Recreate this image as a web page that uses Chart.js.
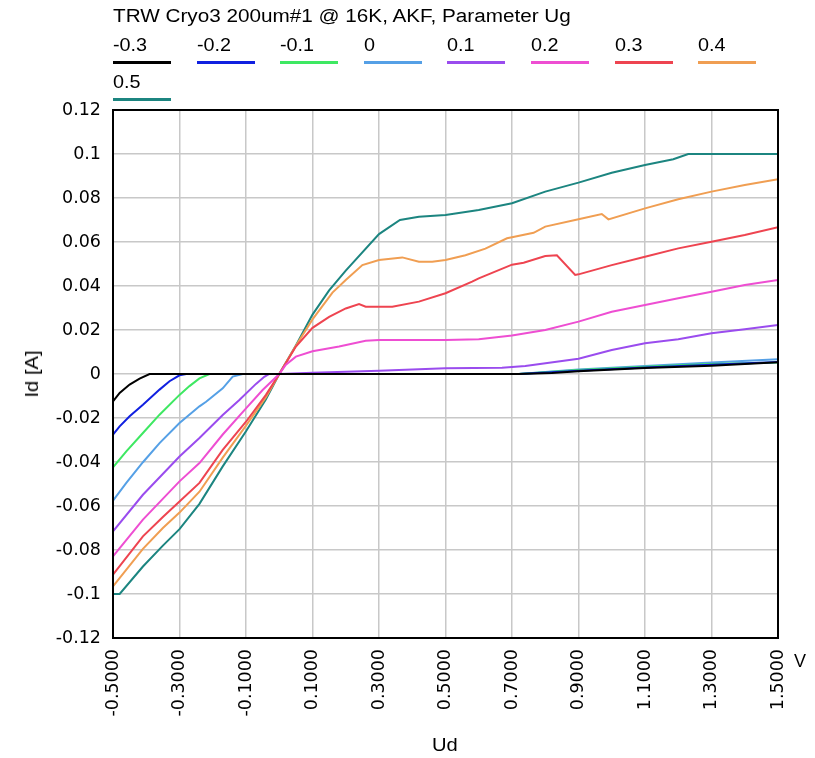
<!DOCTYPE html>
<html>
<head>
<meta charset="utf-8">
<title>TRW Cryo3 200um#1 @ 16K</title>
<script src="https://cdn.jsdelivr.net/npm/chart.js@4.4.1/dist/chart.umd.min.js"></script>
<style>
  html, body { margin: 0; padding: 0; background: #fff; }
  #wrap { position: relative; width: 815px; height: 758px; font-family: "Liberation Sans", Arial, sans-serif; color: #000; overflow: hidden; }
  #plot { position: absolute; left: 0; top: 0; }
  #title { position: absolute; left: 113px; top: 5px; font-size: 18px; line-height: 22px; white-space: nowrap; transform: scaleX(1.15); transform-origin: left center; }
  .item { position: absolute; width: 58px; }
  .item span { display: block; font-size: 18px; line-height: 20px; white-space: nowrap; transform: scaleX(1.1); transform-origin: left center; }
  .item i { display: block; height: 3px; margin-top: 6px; }
  .axt { position: absolute; font-size: 18px; line-height: 20px; white-space: nowrap; }
</style>
</head>
<body>
<div id="wrap">
  <canvas id="plot" width="815" height="758"></canvas>
  <div id="title">TRW Cryo3 200um#1 @ 16K, AKF, Parameter Ug</div>
  <div id="legend"></div>
  <div class="axt" id="xt" style="left:432px; top:735px; transform: scaleX(1.12); transform-origin: left center;">Ud</div>
  <div class="axt" id="yt" style="left:32px; top:374px; transform: translate(-50%,-50%) rotate(-90deg) scaleX(1.12);">Id [A]</div>
  <div class="axt" id="unit" style="left:794px; top:651px;">V</div>
</div>
<script>
// Gate voltage parameter of each curve and its colour
const ugLabels = ['-0.3', '-0.2', '-0.1', '0', '0.1', '0.2', '0.3', '0.4', '0.5'];
const ugColors = ['#000000', '#1020e0', '#3ee862', '#55a0e6', '#9a4cee', '#ee4ed2', '#ee4450', '#f09e52', '#1c8580'];

// Drain voltage Ud [V] / drain current Id [A] per gate voltage
const ud_n03 = [-0.5, -0.48, -0.45, -0.42, -0.39, 0, 0.5, 0.72, 0.82, 0.9, 1.1, 1.3, 1.5];
const id_n03 = [-0.0124, -0.0086, -0.0048, -0.0021, 0, 0, 0, 0, 0.0005, 0.0012, 0.0027, 0.0038, 0.0053];

const ud_n02 = [-0.5, -0.48, -0.45, -0.41, -0.36, -0.33, -0.30, -0.28, 0, 0.72, 0.9, 1.1, 1.3, 1.5];
const id_n02 = [-0.0276, -0.0238, -0.0192, -0.014, -0.0071, -0.0033, -0.0006, 0, 0, 0, 0.0015, 0.003, 0.0042, 0.0055];

const ud_n01 = [-0.5, -0.46, -0.41, -0.36, -0.30, -0.27, -0.24, -0.21, 0, 0.72, 0.9, 1.1, 1.3, 1.5];
const id_n01 = [-0.0424, -0.0352, -0.0268, -0.0185, -0.0095, -0.0055, -0.002, 0, 0, 0, 0.0018, 0.0033, 0.0045, 0.0052];

const ud_0 = [-0.5, -0.46, -0.41, -0.36, -0.30, -0.24, -0.22, -0.17, -0.14, -0.11, 0, 0.72, 0.9, 1.1, 1.3, 1.5];
const id_0 = [-0.0576, -0.0495, -0.0401, -0.0314, -0.0223, -0.0147, -0.0126, -0.0065, -0.0012, 0, 0, 0, 0.0021, 0.0036, 0.0052, 0.0067];

const ud_p01 = [-0.5, -0.41, -0.30, -0.24, -0.17, -0.12, -0.07, -0.045, -0.03, 0, 0.1, 0.3, 0.5, 0.67, 0.74, 0.9, 1.0, 1.1, 1.2, 1.3, 1.4, 1.5];
const id_p01 = [-0.0715, -0.0549, -0.0375, -0.0291, -0.0186, -0.0118, -0.0045, -0.0013, 0, 0, 0.0006, 0.0015, 0.0026, 0.0028, 0.0036, 0.0069, 0.0109, 0.014, 0.0158, 0.0185, 0.0203, 0.0223];

const ud_p02 = [-0.5, -0.41, -0.30, -0.24, -0.17, -0.10, -0.05, 0, 0.02, 0.05, 0.1, 0.18, 0.26, 0.3, 0.5, 0.6, 0.7, 0.8, 0.9, 1.0, 1.1, 1.2, 1.3, 1.4, 1.5];
const id_p02 = [-0.0829, -0.0662, -0.0488, -0.0405, -0.0275, -0.0156, -0.0073, 0, 0.0042, 0.0079, 0.0103, 0.0125, 0.0151, 0.0155, 0.0155, 0.0158, 0.0175, 0.02, 0.0238, 0.0283, 0.0314, 0.0344, 0.0374, 0.0405, 0.0427];

const ud_p03 = [-0.5, -0.41, -0.35, -0.30, -0.24, -0.17, -0.10, -0.04, 0, 0.05, 0.1, 0.15, 0.2, 0.24, 0.26, 0.34, 0.42, 0.5, 0.58, 0.6, 0.7, 0.735, 0.8, 0.835, 0.89, 0.9, 1.0, 1.1, 1.2, 1.3, 1.4, 1.5];
const id_p03 = [-0.0912, -0.0738, -0.065, -0.058, -0.0495, -0.0345, -0.0217, -0.0095, 0, 0.0125, 0.021, 0.026, 0.0298, 0.0318, 0.0306, 0.0306, 0.0329, 0.0367, 0.042, 0.0435, 0.0497, 0.0506, 0.0536, 0.054, 0.045, 0.0453, 0.0495, 0.0533, 0.0571, 0.0601, 0.0632, 0.0667];

const ud_p04 = [-0.5, -0.41, -0.35, -0.30, -0.24, -0.17, -0.10, -0.04, 0, 0.05, 0.1, 0.16, 0.2, 0.25, 0.3, 0.37, 0.42, 0.46, 0.5, 0.56, 0.62, 0.685, 0.7, 0.765, 0.8, 0.9, 0.97, 0.99, 1.1, 1.2, 1.3, 1.4, 1.5];
const id_p04 = [-0.0965, -0.0795, -0.07, -0.063, -0.0535, -0.038, -0.0235, -0.0105, 0, 0.0128, 0.0248, 0.037, 0.0427, 0.0495, 0.0518, 0.053, 0.051, 0.051, 0.0518, 0.054, 0.057, 0.0617, 0.0622, 0.0642, 0.067, 0.0703, 0.0727, 0.0703, 0.0753, 0.0794, 0.0829, 0.0859, 0.0885];

const ud_p05 = [-0.5, -0.48, -0.41, -0.35, -0.30, -0.24, -0.17, -0.10, -0.04, 0, 0.05, 0.1, 0.15, 0.2, 0.3, 0.363, 0.42, 0.5, 0.6, 0.7, 0.8, 0.9, 1.0, 1.1, 1.185, 1.23, 1.5];
const id_p05 = [-0.1, -0.1, -0.0875, -0.078, -0.0705, -0.059, -0.042, -0.026, -0.0115, 0, 0.013, 0.027, 0.038, 0.047, 0.0636, 0.070, 0.0715, 0.0723, 0.0745, 0.0776, 0.0829, 0.087, 0.0915, 0.095, 0.0976, 0.1, 0.1];

// Axis ticks
const xTicks = [-0.5, -0.3, -0.1, 0.1, 0.3, 0.5, 0.7, 0.9, 1.1, 1.3, 1.5];
const yTicks = [-0.12, -0.1, -0.08, -0.06, -0.04, -0.02, 0, 0.02, 0.04, 0.06, 0.08, 0.1, 0.12];

const udSeries = [ud_n03, ud_n02, ud_n01, ud_0, ud_p01, ud_p02, ud_p03, ud_p04, ud_p05];
const idSeries = [id_n03, id_n02, id_n01, id_0, id_p01, id_p02, id_p03, id_p04, id_p05];

const datasets = ugLabels.map((lab, i) => ({
  label: lab,
  data: udSeries[i].map((u, k) => ({ x: u, y: idSeries[i][k] })),
  borderColor: ugColors[i],
  backgroundColor: ugColors[i],
  borderWidth: 2,
  pointRadius: 0,
  tension: 0,
  fill: false
}));

// Legend: label above a short coloured line, eight per row
const legend = document.getElementById('legend');
ugLabels.forEach((lab, i) => {
  const row = Math.floor(i / 8), col = i % 8;
  const d = document.createElement('div');
  d.className = 'item';
  d.style.left = (113 + col * 83.6) + 'px';
  d.style.top = (35 + row * 37) + 'px';
  d.innerHTML = '<span>' + lab + '</span><i style="background:' + ugColors[i] + '"></i>';
  legend.appendChild(d);
});

// Black frame on all four sides of the plot area
const framePlugin = {
  id: 'frame',
  afterDraw(chart) {
    const a = chart.chartArea, ctx = chart.ctx;
    ctx.save();
    ctx.strokeStyle = '#000';
    ctx.lineWidth = 2;
    ctx.strokeRect(a.left, a.top, a.right - a.left, a.bottom - a.top);
    ctx.restore();
  }
};

const tickFont = { family: '"DejaVu Sans", sans-serif', size: 17.5 };

new Chart(document.getElementById('plot'), {
  type: 'scatter',
  data: { datasets },
  options: {
    responsive: false,
    devicePixelRatio: 1,
    animation: false,
    showLine: true,
    layout: { padding: { left: 0, right: 37, top: 110, bottom: 0 } },
    plugins: { legend: { display: false }, title: { display: false }, tooltip: { enabled: false } },
    scales: {
      x: {
        type: 'linear',
        min: -0.5,
        max: 1.5,
        afterBuildTicks(s) { s.ticks = xTicks.map(v => ({ value: v })); },
        afterFit(s) { s.height = 120; },
        ticks: {
          callback: v => Number(v).toFixed(4),
          minRotation: 90,
          maxRotation: 90,
          autoSkip: false,
          color: '#000',
          font: tickFont,
          padding: 11
        },
        grid: { color: '#c8c8c8', lineWidth: 1.5, drawTicks: false },
        border: { display: true, color: '#000', width: 2 }
      },
      y: {
        type: 'linear',
        min: -0.12,
        max: 0.12,
        afterBuildTicks(s) { s.ticks = yTicks.map(v => ({ value: v })); },
        afterFit(s) { s.width = 113; },
        ticks: {
          callback: v => String(parseFloat(Number(v).toFixed(2))),
          autoSkip: false,
          color: '#000',
          font: tickFont,
          padding: 12
        },
        grid: { color: '#c8c8c8', lineWidth: 1.5, drawTicks: false },
        border: { display: true, color: '#000', width: 2 }
      }
    }
  },
  plugins: [framePlugin]
});
</script>
</body>
</html>
